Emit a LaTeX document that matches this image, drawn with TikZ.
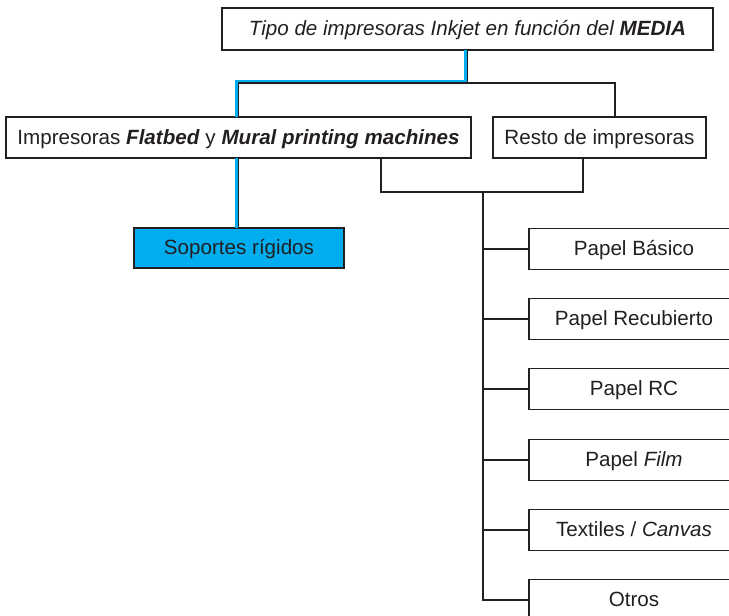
\documentclass[tikz,border=0pt]{standalone}
\usepackage{fontspec}
\setmainfont{Liberation Sans}
\definecolor{ink}{HTML}{231F20}
\definecolor{cyanfill}{HTML}{00AEEF}
\begin{document}
\begin{tikzpicture}[x=1pt,y=-1pt,
  box/.style={draw=ink, line width=1.5pt, rectangle, inner sep=0pt, outer sep=0pt,
    text=ink, font=\fontsize{20.6}{24}\selectfont, minimum height=41pt,
    text height=15pt, text depth=2pt},
  link/.style={draw=ink, line width=1.5pt},
  hilite/.style={draw=cyanfill, line width=2.6pt}]
\useasboundingbox (0,0) rectangle (729,616);
\clip (0,0) rectangle (729,616);

% boxes
\node[box, minimum width=491pt, minimum height=42pt] (top) at (467.5,29)
  {\itshape Tipo de impresoras Inkjet en función del \textbf{MEDIA}};
\node[box, minimum width=465pt] (flat) at (238.5,137.5)
  {Impresoras \textbf{\itshape Flatbed} y \textbf{\itshape Mural printing machines}};
\node[box, minimum width=213pt] (rest) at (599.5,137.5) {Resto de impresoras};
\node[box, minimum width=210pt, minimum height=40pt, fill=cyanfill] (soft) at (239,248)
  {Soportes rígidos};

\node[box, minimum width=210pt] (basico) at (634,249) {Papel Básico};
\node[box, minimum width=210pt] (recub)  at (634,319) {Papel Recubierto};
\node[box, minimum width=210pt] (rc)     at (634,389) {Papel RC};
\node[box, minimum width=210pt] (film)   at (634,460) {Papel \textit{Film}};
\node[box, minimum width=210pt] (textil) at (634,530) {Textiles / \textit{Canvas}};
\node[box, minimum width=210pt] (otros)  at (634,600) {Otros};

% junction points
\coordinate (bend)  at (467.5,83);
\coordinate (split) at (483,192);

% highlighted route to the rigid media
\draw[hilite] ([xshift=-2pt]top.south) -- ([xshift=-2pt,yshift=2pt]bend)
  -| ([xshift=-2pt]flat.north);
\draw[hilite] ([xshift=-2pt]flat.south) -- ([xshift=-2pt]flat.south |- soft.north);

% tree connectors
\draw[link] (top.south) -- (bend) -| (flat.north);
\draw[link] (bend) -| ([xshift=15.5pt]rest.north);
\draw[link] (flat.south) -- (flat.south |- soft.north);
\draw[link] ([xshift=142.5pt]flat.south) |- (split) -| ([xshift=-16.5pt]rest.south);
\draw[link] (split) |- (otros.west);
\foreach \n in {basico,recub,rc,film,textil}
  \draw[link] (split |- \n.west) -- (\n.west);
\end{tikzpicture}
\end{document}
